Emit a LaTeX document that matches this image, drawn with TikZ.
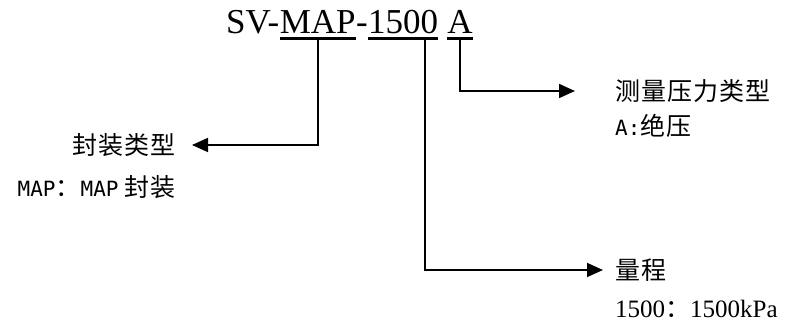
\documentclass[tikz,border=0pt]{standalone}
\usepackage{fontspec}
\setmainfont{Liberation Serif}
\setmonofont{DejaVu Sans Mono}
\newfontfamily\cjk[LetterSpace=4]{Noto Sans CJK SC}
\usetikzlibrary{positioning, arrows.meta}

\tikzstyle{part} = [
inner sep=0,
anchor=base west,
font=\fontsize{35}{40}\selectfont
]
\tikzstyle{heading} = [
inner sep=0,
font=\cjk\fontsize{25}{30}\selectfont
]
\tikzstyle{note} = [
inner sep=0,
font=\fontsize{25}{30}\selectfont
]
\tikzstyle{uline} = [line width=2.5pt]
\tikzstyle{arrow} = [-{Triangle[length=16pt,width=14pt]}, line width=1.8pt]

\newcommand{\mono}[1]{{\ttfamily\fontsize{21}{26}\selectfont #1}}

\begin{document}
\begin{tikzpicture}[x=1pt, y=-1pt]
        \useasboundingbox (0,0) rectangle (790,331);

        \node(sv)[part] at (226,34) {SV-};
        \node(map)[part] at (sv.base east) {MAP};
        \node(dash)[part] at (map.base east) {-};
        \node(num)[part] at (dash.base east) {1500};
        \node(typ)[part] at ([xshift=8.75pt]num.base east) {A};

        \draw[uline] ([yshift=-4.5pt]map.base west) -- ([yshift=-4.5pt]map.base east);
        \draw[uline] ([yshift=-4.5pt]num.base west) -- ([yshift=-4.5pt]num.base east);
        \draw[uline] ([yshift=-4.5pt]typ.base west) -- ([yshift=-4.5pt]typ.base east);

        \node(pkg)[heading, anchor=east] at (176,145) {封装类型};
        \node(pkgnote)[note, anchor=base east] at ([yshift=-42pt]pkg.base east)
        {\mono{MAP}{\cjk ：}\mono{MAP} {\cjk 封装}};

        \node(kind)[heading, anchor=west] at (615,91) {测量压力类型};
        \node(kindnote)[note, anchor=base west] at ([yshift=-35pt]kind.base west)
        {\mono{A:}{\cjk 绝压}};

        \node(rng)[heading, anchor=west] at (615,270) {量程};
        \node(rngnote)[note, anchor=base west] at ([yshift=-38pt]rng.base west)
        {1500{\cjk ：}1500kPa};

        \draw[arrow, shorten >=16pt] ([yshift=-4.5pt]map.base) |- (pkg);
        \draw[arrow, shorten >=12pt] ([xshift=22pt, yshift=-4.5pt]num.base) |- (rng);
        \draw[arrow, shorten >=40pt] ([yshift=-4.5pt]typ.base) |- (kind);

\end{tikzpicture}
\end{document}
